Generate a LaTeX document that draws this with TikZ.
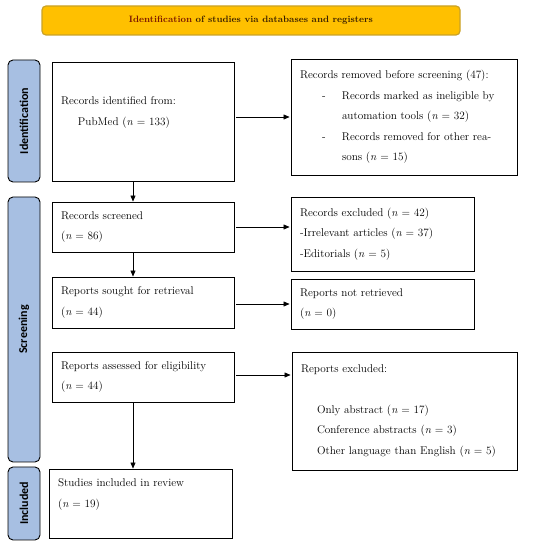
\documentclass[tikz,border=0pt]{standalone}
\usepackage{fontspec}
\newfontfamily\sidefont{Carlito}
\usepackage{xcolor}
\usepackage{tikz}
\usetikzlibrary{arrows.meta}

\definecolor{hdrfill}{HTML}{FFC000}
\definecolor{hdrline}{HTML}{C9A227}
\definecolor{hdrtext}{HTML}{3A2000}
\definecolor{hdrred}{HTML}{7A1500}
\definecolor{barfill}{HTML}{A7BFE2}

\newcommand{\itm}{\makebox[42pt][l]{\hspace*{22pt}-}}
\newcommand{\ind}{\hspace*{42pt}}

\tikzset{
    box/.style={draw, line width=0.9pt, align=left, inner xsep=9pt, inner ysep=0pt, font=\fontsize{11.2}{20.5}\selectfont},
    bar/.style={draw, line width=0.9pt, fill=barfill, rounded corners=5pt, rotate=90, minimum height=32pt, inner sep=0pt, font=\sidefont\bfseries\fontsize{12}{14}\selectfont},
    arr/.style={-{Triangle[length=6pt,width=5pt]}, line width=0.6pt},
}

\begin{document}
\begin{tikzpicture}[x=1pt, y=-1pt]
            \useasboundingbox (0,0) rectangle (550,545);

            \node[draw=hdrline, line width=1.2pt, fill=hdrfill, rounded corners=4pt, minimum width=418pt, minimum height=29pt, text=hdrtext, font=\bfseries\fontsize{9.2}{11}\selectfont] (hdr) at (251,20.5) {\textcolor{hdrred}{Identification} of studies via databases and registers}; % header

            \node[bar, minimum width=122pt] (idbar) at (24,121) {Identification}; % phases
            \node[bar, minimum width=265pt] (scbar) at (24,329.5) {Screening};
            \node[bar, minimum width=73pt] (inbar) at (24,503.5) {Included};

            \node[box, minimum width=182pt, minimum height=119pt, text width=164pt] (ident) at (143,121.5) {Records identified from:\\\hspace*{17pt}PubMed (\textit{n} = 133)\\~}; % left column
            \node[box, minimum width=182pt, minimum height=50pt, text width=164pt] (scr) at (143,227) {Records screened\\(\textit{n} = 86)};
            \node[box, minimum width=182pt, minimum height=51pt, text width=164pt] (sought) at (143,302.5) {Reports sought for retrieval\\(\textit{n} = 44)};
            \node[box, minimum width=182pt, minimum height=50pt, text width=164pt] (assess) at (143,377) {Reports assessed for eligibility\\(\textit{n} = 44)};
            \node[box, minimum width=183pt, minimum height=69pt, text width=165pt] (incl) at (140.5,503.5) {Studies included in review\\(\textit{n} = 19)\\~};

            \node[box, minimum width=226pt, minimum height=116pt, text width=208pt] (removed) at (404,117) {Records removed before screening (47):\\\itm Records marked as ineligible by\\\ind automation tools (\textit{n} = 32)\\\itm Records removed for other rea-\\\ind sons (\textit{n} = 15)}; % right column
            \node[box, minimum width=183pt, minimum height=74pt, text width=165pt] (excl) at (382.5,234) {Records excluded (\textit{n} = 42)\\-Irrelevant articles (\textit{n} = 37)\\-Editorials (\textit{n} = 5)};
            \node[box, minimum width=183pt, minimum height=50pt, text width=165pt] (notret) at (382.5,304) {Reports not retrieved\\(\textit{n} = 0)};
            \node[box, minimum width=225pt, minimum height=118pt, text width=207pt] (repexcl) at (404.5,411) {Reports excluded:\\[20.5pt]\hspace*{16pt}Only abstract (\textit{n} = 17)\\\hspace*{16pt}Conference abstracts (\textit{n} = 3)\\\hspace*{16pt}Other language than English (\textit{n} = 5)};

            \draw[arr] ([xshift=-10pt]ident.south) -- ([xshift=-10pt]scr.north); % down
            \draw[arr] ([xshift=-10pt]scr.south) -- ([xshift=-10pt]sought.north);
            \draw[arr] ([xshift=-10pt]assess.south) -- ([xshift=-7.5pt]incl.north);

            \draw[arr, shorten <=2pt, shorten >=1pt] (removed.west -| ident.east) -- (removed.west); % across
            \draw[arr, shorten <=2pt, shorten >=1pt] (scr.east) -- (scr.east -| excl.west);
            \draw[arr, shorten <=2pt, shorten >=1pt] (notret.west -| sought.east) -- (notret.west);
            \draw[arr, shorten <=2pt, shorten >=1pt] ([yshift=2pt]assess.east) -- ([yshift=2pt]assess.east -| repexcl.west);

        \end{tikzpicture}
\end{document}
